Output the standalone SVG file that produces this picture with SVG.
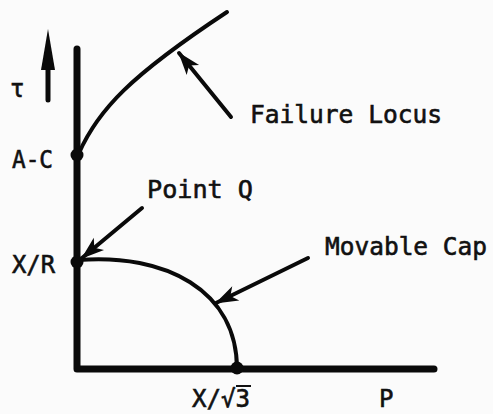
<svg xmlns="http://www.w3.org/2000/svg" width="493" height="414" viewBox="0 0 493 414">
<style>
.lbl{font-family:"DejaVu Sans Mono","Liberation Mono",monospace;font-size:24px;fill:#111;stroke:#111;stroke-width:0.6}
.axis{fill:none;stroke:#0a0a0a;stroke-width:7;stroke-linecap:round;stroke-linejoin:round}
.curve{fill:none;stroke:#0a0a0a;stroke-width:4;stroke-linecap:round}
.lead{fill:none;stroke:#0a0a0a;stroke-width:4;stroke-linecap:round}
.dot{fill:#0a0a0a}
</style>
<defs>
<marker id="ah" markerUnits="userSpaceOnUse" markerWidth="30" markerHeight="20" viewBox="-24 -10 26 20" refX="0" refY="0" orient="auto">
<path d="M1,0 L-22,-8 L-16,0 L-22,8 Z" fill="#0a0a0a"/>
</marker>
</defs>
<rect width="493" height="414" fill="#fbfbfb"/>
<g id="axes">
<path class="axis" d="M77,49 L77,369 L434,369"/>
<line x1="48" y1="100" x2="48" y2="60" stroke="#0a0a0a" stroke-width="5" stroke-linecap="round"/>
<path d="M48,29 L41,70 L55,70 Z" fill="#0a0a0a"/>
<text class="lbl" x="10" y="97">τ</text>
<text class="lbl" x="379" y="407">P</text>
</g>
<g id="failure-locus">
<path class="curve" d="M79,153 C98,110 130,76 227,12"/>
<circle class="dot" cx="77" cy="155" r="6.5"/>
<text class="lbl" x="12" y="168" textLength="41" lengthAdjust="spacingAndGlyphs">A-C</text>
<text class="lbl" x="250" y="123" textLength="192" lengthAdjust="spacingAndGlyphs">Failure Locus</text>
</g>
<g id="movable-cap">
<path class="curve" d="M78,260 C165,253 237,290 237,369"/>
<circle class="dot" cx="237" cy="368" r="6.5"/>
<text class="lbl" x="325" y="255" textLength="162" lengthAdjust="spacingAndGlyphs">Movable Cap</text>
<text class="lbl" x="192" y="407" textLength="58" lengthAdjust="spacingAndGlyphs">X/√3</text>
<line x1="236" y1="386" x2="251" y2="386" stroke="#111" stroke-width="2"/>
</g>
<g id="point-q">
<circle class="dot" cx="77" cy="262" r="6.5"/>
<text class="lbl" x="12" y="273" textLength="43" lengthAdjust="spacingAndGlyphs">X/R</text>
<text class="lbl" x="147" y="198" textLength="106" lengthAdjust="spacingAndGlyphs">Point Q</text>
</g>
<g id="connectors">
<line class="lead" x1="231" y1="117" x2="179" y2="53" marker-end="url(#ah)"/>
<line class="lead" x1="142" y1="208" x2="82" y2="258" marker-end="url(#ah)"/>
<line class="lead" x1="308" y1="258" x2="216" y2="303" marker-end="url(#ah)"/>
</g>
</svg>
